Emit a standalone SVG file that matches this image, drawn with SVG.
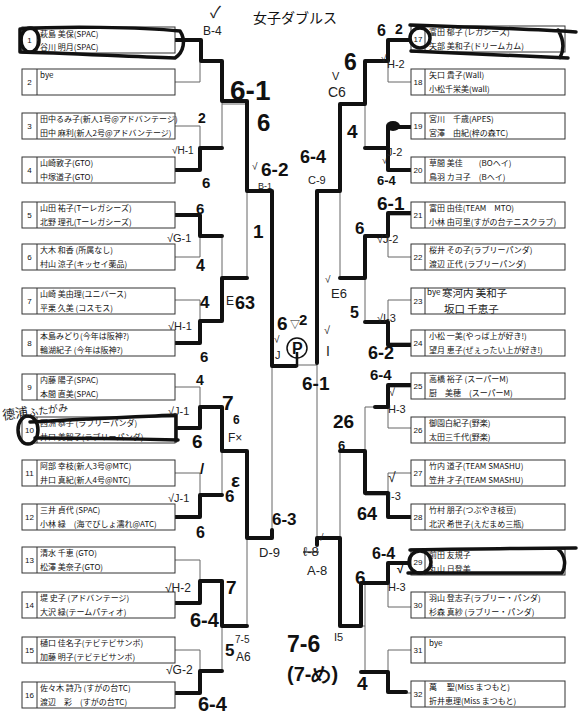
<svg xmlns="http://www.w3.org/2000/svg" width="578" height="720" viewBox="0 0 578 720">
<style>
.bx{fill:#fff;stroke:#333;stroke-width:1}
.dv{stroke:#333;stroke-width:1}
.ln{stroke:#666;stroke-width:1;fill:none}
.w{stroke:#111;stroke-width:4;fill:none;stroke-linecap:round;stroke-linejoin:round}
.o{stroke:#111;stroke-width:3.5;fill:none;stroke-linecap:round;stroke-linejoin:round}
.t{font-family:"Noto Sans CJK JP","Noto Sans",sans-serif;font-size:8px;fill:#111}
.n{font-family:"Liberation Sans",sans-serif;font-size:8px;fill:#111;text-anchor:middle}
.m{font-family:"Liberation Sans",sans-serif;font-weight:bold;fill:#111}
.p{font-family:"Liberation Sans","Noto Sans CJK JP",sans-serif;fill:#222}
.h{font-family:"Noto Sans CJK JP",sans-serif;fill:#222}
</style>
<rect width="578" height="720" fill="#fff"/>
<text x="253" y="23" font-family="Noto Sans CJK JP, sans-serif" font-size="14" fill="#111">女子ダブルス</text>

<g id="connectors">
<path class="ln" d="M175,40H200V82H175M200,61H222M175,126H200V170H175M200,148H222M175,215H200V257H175M200,236H222M175,300H200V343H175M200,321H222M175,387H200V428H175M200,407H222M175,473H200V517H175M200,495H222M175,560H200V603H175M200,581H222M175,650H200V693H175M200,671H222"/>
<path class="ln" d="M222,61V148M222,104H247M222,236V321M222,278H247M222,407V495M222,451H247M222,581V671M222,626H247"/>
<path class="ln" d="M247,104V278M247,191H272M247,451V626M247,538H272M272,191V538M272,365H317"/>
<path class="ln" d="M411,40H388V82H411M388,61H365M411,126H388V170H411M388,148H365M411,215H388V257H411M388,236H365M411,300H388V343H411M388,321H365M411,387H388V428H411M388,407H365M411,473H388V517H411M388,495H365M411,563H388V607H411M388,583H365M411,650H388V693H411M388,671H365"/>
<path class="ln" d="M365,61V148M365,104H340M365,236V321M365,278H340M365,407V495M365,451H340M365,583V671M365,626H340"/>
<path class="ln" d="M340,104V278M340,191H317M340,451V626M340,538H317M317,191V538"/>
<path class="w" d="M175,40H201V61H222V101H247V191H272V366H296"/>
<path class="w" d="M175,170H200V148H222"/>
<path class="w" d="M175,215H200V236H222"/>
<path class="w" d="M175,343H200V321H222V278H247"/>
<path class="w" d="M178,428H200V407H222V451H247V538H272V530"/>
<path class="w" d="M175,517H200V495H222"/>
<path class="w" d="M175,603H200V581H222V626H247"/>
<path class="w" d="M175,693H200V671H222"/>
<path class="w" d="M411,40H388V61H365V104H340V191H317V363"/>
<path class="w" d="M411,127H388V170H411M388,148H365"/>
<path class="w" d="M411,213H388V236H365V278H340"/>
<path class="w" d="M411,345H388V322H365"/>
<path class="w" d="M411,385H388V407H375"/>
<path class="w" d="M411,517H388V493H365V451H340"/>
<path class="w" d="M411,563H388V583H361V626H340V538H317V545"/>
<path class="w" d="M406,692H388V672H361"/>
<ellipse cx="393" cy="126" rx="7" ry="5" fill="#111"/>
<circle cx="297" cy="348" r="10" fill="none" stroke="#111" stroke-width="1.5"/>
<line x1="297" y1="352" x2="297" y2="367" stroke="#111" stroke-width="2.5"/>
</g>

<g id="e1"><rect class="bx" x="22" y="27" width="153" height="26"/><line class="dv" x1="37" y1="27" x2="37" y2="53"/><text class="n" x="29.5" y="43">1</text><text class="t" x="40" y="37">萩島 美保(SPAC)</text><text class="t" x="40" y="50">谷川 明月(SPAC)</text>
<path class="o" d="M20,29C60,26 140,27 180,31C186,40 184,52 175,58C120,56 60,53 20,52Z"/><ellipse class="o" cx="30" cy="40" rx="9" ry="12" stroke-width="3"/></g>
<g id="e2"><rect class="bx" x="22" y="69" width="153" height="26"/><line class="dv" x1="37" y1="69" x2="37" y2="95"/><text class="n" x="29.5" y="85">2</text><text class="t" x="40" y="78" font-size="7">bye</text></g>
<g id="e3"><rect class="bx" x="22" y="113" width="153" height="26"/><line class="dv" x1="37" y1="113" x2="37" y2="139"/><text class="n" x="29.5" y="129">3</text><text class="t" x="40" y="122">田中るみ子(新人1号@アドバンテージ)</text><text class="t" x="40" y="136">田中 麻利(新人2号@アドバンテージ)</text></g>
<g id="e4"><rect class="bx" x="22" y="157" width="153" height="26"/><line class="dv" x1="37" y1="157" x2="37" y2="183"/><text class="n" x="29.5" y="173">4</text><text class="t" x="40" y="166">山崎敦子(GTO)</text><text class="t" x="40" y="180">中塚道子(GTO)</text></g>
<g id="e5"><rect class="bx" x="22" y="202" width="153" height="26"/><line class="dv" x1="37" y1="202" x2="37" y2="228"/><text class="n" x="29.5" y="218">5</text><text class="t" x="40" y="211">山田 祐子(Tーレガシーズ)</text><text class="t" x="40" y="225">北野 理孔(Tーレガシーズ)</text></g>
<g id="e6"><rect class="bx" x="22" y="244" width="153" height="26"/><line class="dv" x1="37" y1="244" x2="37" y2="270"/><text class="n" x="29.5" y="260">6</text><text class="t" x="40" y="253">大木 和香 (所属なし)</text><text class="t" x="40" y="267">村山 涼子(キッセイ薬品)</text></g>
<g id="e7"><rect class="bx" x="22" y="288" width="153" height="26"/><line class="dv" x1="37" y1="288" x2="37" y2="314"/><text class="n" x="29.5" y="304">7</text><text class="t" x="40" y="297">山崎 美由理(ユニバース)</text><text class="t" x="40" y="311">平栗 久美 (コスモス)</text></g>
<g id="e8"><rect class="bx" x="22" y="330" width="153" height="26"/><line class="dv" x1="37" y1="330" x2="37" y2="356"/><text class="n" x="29.5" y="346">8</text><text class="t" x="40" y="339">本島みどり(今年は阪神?)</text><text class="t" x="40" y="353">輪湖紀子 (今年は阪神?)</text></g>
<g id="e9"><rect class="bx" x="22" y="374" width="153" height="26"/><line class="dv" x1="37" y1="374" x2="37" y2="400"/><text class="n" x="29.5" y="390">9</text><text class="t" x="40" y="383">内藤 陽子(SPAC)</text><text class="t" x="40" y="397">本間 直美(SPAC)</text></g>
<g id="e10"><rect class="bx" x="22" y="417" width="153" height="26"/><line class="dv" x1="37" y1="417" x2="37" y2="443"/><text class="n" x="29.5" y="433">10</text><text class="t" x="40" y="426">西洲 恭子 (ラブリーパンダ)</text><text class="t" x="40" y="440">井口 美智子(ラブリーパンダ)</text>
<path class="o" d="M30,422C80,419 130,417 176,415V441M35,438C90,438 140,439 178,440"/><ellipse class="o" cx="28" cy="430" rx="10" ry="14" stroke-width="3"/>
<text class="h" x="3" y="420" font-size="13" transform="rotate(-8 3 420)">德浦<tspan font-size="10">ふたがみ</tspan></text></g>
<g id="e11"><rect class="bx" x="22" y="460" width="153" height="26"/><line class="dv" x1="37" y1="460" x2="37" y2="486"/><text class="n" x="29.5" y="476">11</text><text class="t" x="40" y="469">阿部 幸枝(新人3号@MTC)</text><text class="t" x="40" y="483">井口 真紀(新人4号@NTC)</text></g>
<g id="e12"><rect class="bx" x="22" y="504" width="153" height="26"/><line class="dv" x1="37" y1="504" x2="37" y2="530"/><text class="n" x="29.5" y="520">12</text><text class="t" x="40" y="513">三井 貞代 (SPAC)</text><text class="t" x="40" y="527">小林 緑　(海でびしょ濡れ@ATC)</text></g>
<g id="e13"><rect class="bx" x="22" y="547" width="153" height="26"/><line class="dv" x1="37" y1="547" x2="37" y2="573"/><text class="n" x="29.5" y="563">13</text><text class="t" x="40" y="556">清水 千恵 (GTO)</text><text class="t" x="40" y="570">松澤 美奈子(GTO)</text></g>
<g id="e14"><rect class="bx" x="22" y="592" width="153" height="26"/><line class="dv" x1="37" y1="592" x2="37" y2="618"/><text class="n" x="29.5" y="608">14</text><text class="t" x="40" y="601">堤 史子 (アドバンテージ)</text><text class="t" x="40" y="615">大沢 緑(テームパティオ)</text></g>
<g id="e15"><rect class="bx" x="22" y="637" width="153" height="26"/><line class="dv" x1="37" y1="637" x2="37" y2="663"/><text class="n" x="29.5" y="653">15</text><text class="t" x="40" y="646">樋口 佳名子(テビテビサンボ)</text><text class="t" x="40" y="660">加藤 明子(テビテビサンボ)</text></g>
<g id="e16"><rect class="bx" x="22" y="682" width="153" height="26"/><line class="dv" x1="37" y1="682" x2="37" y2="708"/><text class="n" x="29.5" y="698">16</text><text class="t" x="40" y="691">佐々木 詩乃 (すがの台TC)</text><text class="t" x="40" y="705">渡辺　彩　(すがの台TC)</text></g>

<g id="e17"><rect class="bx" x="411" y="26" width="154" height="26"/><line class="dv" x1="425" y1="26" x2="425" y2="52"/><text class="n" x="418" y="42">17</text><text class="t" x="429" y="35">富田 郁子 (レガシーズ)</text><text class="t" x="429" y="49">矢部 美和子(ドリームカム)</text>
<path class="o" d="M410,25C470,27 530,29 576,32M411,51C470,54 520,56 568,58M558,30C564,40 564,50 560,58"/><circle class="o" cx="420" cy="38" r="10" stroke-width="3"/></g>
<g id="e18"><rect class="bx" x="411" y="69" width="154" height="26"/><line class="dv" x1="425" y1="69" x2="425" y2="95"/><text class="n" x="418" y="85">18</text><text class="t" x="429" y="78">矢口 貴子(Wall)</text><text class="t" x="429" y="92">小松千栄美(wall)</text></g>
<g id="e19"><rect class="bx" x="411" y="113" width="154" height="26"/><line class="dv" x1="425" y1="113" x2="425" y2="139"/><text class="n" x="418" y="129">19</text><text class="t" x="429" y="122">宮川　千歳(APES)</text><text class="t" x="429" y="136">宮澤　由紀(梓の森TC)</text></g>
<g id="e20"><rect class="bx" x="411" y="157" width="154" height="26"/><line class="dv" x1="425" y1="157" x2="425" y2="183"/><text class="n" x="418" y="173">20</text><text class="t" x="429" y="166">草間 美佳　　(BOヘイ)</text><text class="t" x="429" y="180">鳥羽 カヨ子　(Bヘイ)</text></g>
<g id="e21"><rect class="bx" x="411" y="202" width="154" height="26"/><line class="dv" x1="425" y1="202" x2="425" y2="228"/><text class="n" x="418" y="218">21</text><text class="t" x="429" y="211">富田 由佳(TEAM　MTO)</text><text class="t" x="429" y="225">小林 由可里(すがの台テニスクラブ)</text></g>
<g id="e22"><rect class="bx" x="411" y="244" width="154" height="26"/><line class="dv" x1="425" y1="244" x2="425" y2="270"/><text class="n" x="418" y="260">22</text><text class="t" x="429" y="253">桜井 その子(ラブリーパンダ)</text><text class="t" x="429" y="267">渡辺 正代 (ラブリーパンダ)</text></g>
<g id="e23"><rect class="bx" x="411" y="288" width="154" height="26"/><line class="dv" x1="425" y1="288" x2="425" y2="314"/><text class="n" x="418" y="304">23</text><text class="t" x="427" y="295" font-size="6">bye</text><text class="h" x="442" y="297" font-size="10.5">寒河内 美和子</text><text class="h" x="444" y="313" font-size="10.5">坂口 千恵子</text></g>
<g id="e24"><rect class="bx" x="411" y="330" width="154" height="26"/><line class="dv" x1="425" y1="330" x2="425" y2="356"/><text class="n" x="418" y="346">24</text><text class="t" x="429" y="339">小松 一美(やっぱ上が好き!)</text><text class="t" x="429" y="353">望月 恵子(ぜぇったい上が好き!)</text></g>
<g id="e25"><rect class="bx" x="411" y="373" width="154" height="26"/><line class="dv" x1="425" y1="373" x2="425" y2="399"/><text class="n" x="418" y="389">25</text><text class="t" x="429" y="382">高橋 裕子 (スーパーM)</text><text class="t" x="429" y="396">厨　美穂　(スーパーM)</text></g>
<g id="e26"><rect class="bx" x="411" y="417" width="154" height="26"/><line class="dv" x1="425" y1="417" x2="425" y2="443"/><text class="n" x="418" y="433">26</text><text class="t" x="429" y="426">御園白紀子(野楽)</text><text class="t" x="429" y="440">太田三千代(野楽)</text></g>
<g id="e27"><rect class="bx" x="411" y="460" width="154" height="26"/><line class="dv" x1="425" y1="460" x2="425" y2="486"/><text class="n" x="418" y="476">27</text><text class="t" x="429" y="469">竹内 道子(TEAM SMASHU)</text><text class="t" x="429" y="483">笠井 才子(TEAM SMASHU)</text></g>
<g id="e28"><rect class="bx" x="411" y="504" width="154" height="26"/><line class="dv" x1="425" y1="504" x2="425" y2="530"/><text class="n" x="418" y="520">28</text><text class="t" x="429" y="513">竹村 朋子(つぶやき枝豆)</text><text class="t" x="429" y="527">北沢 希世子(えだまめ三瓶)</text></g>
<g id="e29"><rect class="bx" x="411" y="549" width="154" height="26"/><line class="dv" x1="425" y1="549" x2="425" y2="575"/><text class="n" x="418" y="565">29</text><text class="t" x="429" y="558">前田 友規子</text><text class="t" x="429" y="572">丸山 日登美</text>
<path class="o" d="M410,550C470,549 530,548 576,548M408,573C470,573 520,573 562,573M558,549C566,556 566,566 562,573"/><circle class="o" cx="420" cy="562" r="11" stroke-width="3"/></g>
<g id="e30"><rect class="bx" x="411" y="592" width="154" height="26"/><line class="dv" x1="425" y1="592" x2="425" y2="618"/><text class="n" x="418" y="608">30</text><text class="t" x="429" y="601">羽山 登志子(ラブリー・パンダ)</text><text class="t" x="429" y="615">杉森 真紗 (ラブリー・パンダ)</text></g>
<g id="e31"><rect class="bx" x="411" y="637" width="154" height="26"/><line class="dv" x1="425" y1="637" x2="425" y2="663"/><text class="n" x="418" y="653">31</text><text class="t" x="429" y="646" font-size="7">bye</text></g>
<g id="e32"><rect class="bx" x="411" y="681" width="154" height="26"/><line class="dv" x1="425" y1="681" x2="425" y2="707"/><text class="n" x="418" y="697">32</text><text class="t" x="429" y="690">萬　 聖(Miss まつもと)</text><text class="t" x="429" y="704">折井恵理(Miss まつもと)</text></g>

<g id="notes">
<text class="p" x="210" y="18" font-size="16">✓</text>
<text class="p" x="203" y="35" font-size="12">B-4</text>
<text class="m" x="230" y="100" font-size="28">6-1</text>
<text class="m" x="257" y="131" font-size="24">6</text>
<text class="m" x="198" y="123" font-size="14">2</text>
<text class="p" x="172" y="154" font-size="10">√H-1</text>
<text class="m" x="202" y="188" font-size="15">6</text>
<text class="p" x="252" y="170" font-size="10">√</text>
<text class="m" x="261" y="176" font-size="19">6-2</text>
<text class="p" x="258" y="189" font-size="9">B-1</text>
<text class="m" x="196" y="214" font-size="15">6</text>
<text class="p" x="167" y="242" font-size="11">√G-1</text>
<text class="m" x="196" y="271" font-size="16">4</text>
<text class="m" x="253" y="238" font-size="19">1</text>
<text class="m" x="200" y="308" font-size="17">4</text>
<text class="p" x="226" y="305" font-size="12">E</text>
<text class="m" x="235" y="309" font-size="18">63</text>
<text class="p" x="168" y="330" font-size="11">√H-1</text>
<text class="m" x="200" y="362" font-size="15">6</text>
<text class="m" x="277" y="330" font-size="19">6</text>
<text class="p" x="290" y="328" font-size="10">▽</text>
<text class="m" x="299" y="325" font-size="15">2</text>
<text class="m" x="292" y="354" font-size="16">P</text>
<text class="p" x="274" y="343" font-size="10">√</text>
<text class="p" x="275" y="359" font-size="11">J</text>
<text class="p" x="324" y="334" font-size="11">√</text>
<text class="p" x="326" y="356" font-size="14">I</text>
<text class="m" x="302" y="390" font-size="19">6-1</text>
<text class="m" x="196" y="385" font-size="14">4</text>
<text class="p" x="168" y="415" font-size="11">√J-1</text>
<text class="m" x="222" y="410" font-size="21">7</text>
<text class="m" x="233" y="424" font-size="12">6</text>
<text class="p" x="228" y="442" font-size="12">F×</text>
<text class="m" x="192" y="448" font-size="19">6</text>
<text class="m" x="200" y="474" font-size="15">/</text>
<text class="m" x="231" y="487" font-size="19">ε</text>
<text class="m" x="225" y="502" font-size="17">6</text>
<text class="p" x="168" y="502" font-size="11">√J-1</text>
<text class="m" x="196" y="538" font-size="16">6</text>
<text class="m" x="272" y="525" font-size="17">6-3</text>
<text class="p" x="259" y="557" font-size="13">D-9</text>
<text class="m" x="226" y="594" font-size="19">7</text>
<text class="p" x="165" y="592" font-size="12">√H-2</text>
<text class="m" x="190" y="627" font-size="20">6-4</text>
<text class="m" x="225" y="656" font-size="17">5</text>
<text class="p" x="235" y="643" font-size="10">7-5</text>
<text class="p" x="236" y="661" font-size="12">A6</text>
<text class="p" x="166" y="674" font-size="12">√G-2</text>
<text class="m" x="198" y="711" font-size="20">6-4</text>

<text class="m" x="377" y="36" font-size="16">6</text>
<text class="m" x="395" y="34" font-size="14">2</text>
<text class="m" x="344" y="70" font-size="23">6</text>
<text class="p" x="381" y="62" font-size="10">√</text>
<text class="p" x="387" y="68" font-size="11">H-2</text>
<text class="p" x="332" y="80" font-size="11">V</text>
<text class="p" x="328" y="97" font-size="14">C6</text>
<text class="m" x="347" y="138" font-size="19">4</text>
<text class="p" x="387" y="156" font-size="11">J-2</text>
<text class="p" x="382" y="164" font-size="10">√</text>
<text class="m" x="300" y="163" font-size="18">6-4</text>
<text class="p" x="308" y="184" font-size="11">C-9</text>
<text class="m" x="377" y="185" font-size="13">6-4</text>
<text class="m" x="377" y="210" font-size="19">6-1</text>
<text class="m" x="355" y="234" font-size="17">6</text>
<text class="p" x="377" y="243" font-size="11">√J-2</text>
<text class="p" x="325" y="283" font-size="10">√</text>
<text class="p" x="331" y="298" font-size="13">E6</text>
<text class="m" x="350" y="318" font-size="16">5</text>
<text class="p" x="377" y="322" font-size="11">√I-3</text>
<text class="m" x="368" y="359" font-size="18">6-2</text>
<text class="m" x="370" y="380" font-size="15">6-4</text>
<text class="p" x="389" y="396" font-size="11">√</text>
<text class="p" x="388" y="413" font-size="11">H-3</text>
<text class="m" x="333" y="428" font-size="19">26</text>
<text class="m" x="338" y="450" font-size="13">6</text>
<text class="p" x="388" y="482" font-size="14">√</text>
<text class="p" x="388" y="500" font-size="11">I-3</text>
<text class="m" x="357" y="520" font-size="18">64</text>
<text class="p" x="318" y="541" font-size="10">√</text>
<text class="p" x="303" y="556" font-size="13" text-decoration="line-through">ℓ-8</text>
<text class="p" x="307" y="575" font-size="13">A-8</text>
<text class="m" x="372" y="559" font-size="16">6-4</text>
<text class="m" x="355" y="584" font-size="19">6</text>
<text class="m" x="397" y="573" font-size="12">√</text>
<text class="p" x="388" y="591" font-size="11">H-3</text>
<text class="m" x="287" y="652" font-size="23">7-6</text>
<text class="p" x="334" y="641" font-size="11">I5</text>
<text class="m" x="287" y="681" font-size="20">(7-め)</text>
<text class="m" x="357" y="690" font-size="19">4</text>
</g>
</svg>
